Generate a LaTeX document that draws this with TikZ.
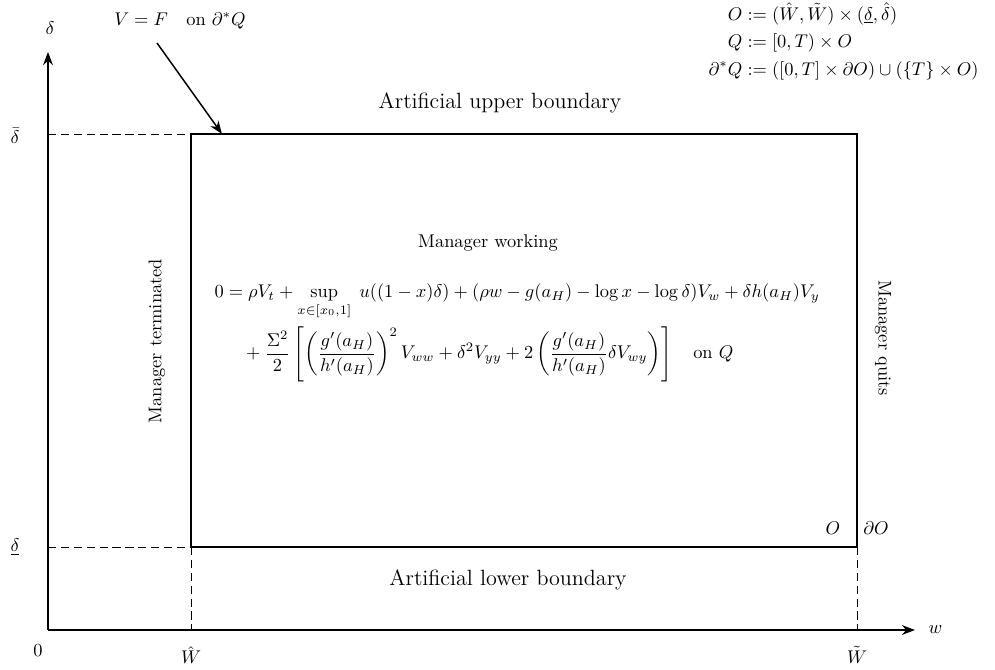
\documentclass[tikz,border=0pt]{standalone}
\usepackage{amsmath}
\usepackage{amssymb}
\usetikzlibrary{arrows.meta}
\tikzset{
    axis/.style = {draw, thick, -{Stealth[length=2.5mm]}},
    bound/.style = {draw, thick},
    guide/.style = {draw, dash pattern=on 4.5pt off 2.5pt},
    region/.style = {anchor=center, font=\large},
    pointer/.style = {draw, thick, -{Stealth[length=2.5mm]}}
}

\begin{document}
\begin{tikzpicture}[x=0.0191cm,y=-0.0191cm]
        \useasboundingbox (0,0) rectangle (995,669);
            % axes and corners of the domain
            \coordinate (origin) at (48,630);
            \coordinate (ytop) at (48,52);
            \coordinate (xend) at (915,630);
            \coordinate (lowleft) at (191,547);
            \coordinate (lowright) at (857,547);
            \coordinate (upleft) at (191,134);
            \coordinate (upright) at (857,134);
            \coordinate (dbar) at (48,134);
            \coordinate (dlow) at (48,547);
            \coordinate (what) at (191,630);
            \coordinate (wtil) at (857,630);
                \draw[axis] (origin) -- (ytop);
                \draw[axis] (origin) -- (xend);
                \draw[bound] (lowleft) -- (lowright) -- (upright) -- (upleft) -- cycle;
                \draw[guide] (dbar) -- (upleft);
                \draw[guide] (dlow) -- (lowleft);
                \draw[guide] (lowleft) -- (what);
                \draw[guide] (lowright) -- (wtil);
            % axis labels
            \node [anchor=center] (ylab) at (50,28) {$\delta$};
            \node [anchor=west] (xlab) at (922,630) {$w$};
            \node [anchor=center] (zero) at (38,651) {$0$};
            \node [anchor=center] (dbarlab) at (15,136) {$\bar\delta$};
            \node [anchor=center] (dlowlab) at (15,547) {$\underline{\delta}$};
            \node [anchor=center] (whatlab) at (191,655) {$\hat W$};
            \node [anchor=center] (wtillab) at (857,655) {$\tilde W$};
            \node [anchor=center] (olab) at (833,528) {$O$};
            \node [anchor=center] (dolab) at (876,528) {$\partial O$};
            % boundary condition and its pointer
            \node [anchor=center] (bc) at (180,21) {$V=F\quad\text{on }\partial^*Q$};
            \coordinate (tip) at (222,134);
                \draw[pointer] (157,43) -- (tip);
            % regions
            \node [region] (upper) at (500,103) {Artificial upper boundary};
            \node [region] (lower) at (508,580) {Artificial lower boundary};
            \node [anchor=center] (work) at (488,243) {Manager working};
            \node [anchor=center, rotate=90] (term) at (157,341) {Manager terminated};
            \node [anchor=center, rotate=-90] (quit) at (883,338) {Manager quits};
            % the equation on Q
            \node [anchor=west] (hjb) at (208,332) {$\begin{aligned}
                0 &= \rho V_t + \sup\limits_{x\in[x_0,1]}\; u((1-x)\delta) + (\rho w - g(a_H) - \log x - \log\delta)V_w + \delta h(a_H)V_y\\
                  &\quad + \frac{\Sigma^2}{2}\left[\left(\frac{g'(a_H)}{h'(a_H)}\right)^2 V_{ww} + \delta^2 V_{yy} + 2\left(\frac{g'(a_H)}{h'(a_H)}\delta V_{wy}\right)\right]\quad\text{on }Q
            \end{aligned}$};
            % sets
            \node [anchor=north east, inner sep=0pt] (sets) at (979,2) {$\begin{aligned}
                O &:= (\hat W,\tilde W)\times(\underline{\delta},\hat\delta)\\
                Q &:= [0,T)\times O\\
                \partial^*Q &:= ([0,T]\times\partial O)\cup(\{T\}\times O)
            \end{aligned}$};
\end{tikzpicture}
\end{document}
